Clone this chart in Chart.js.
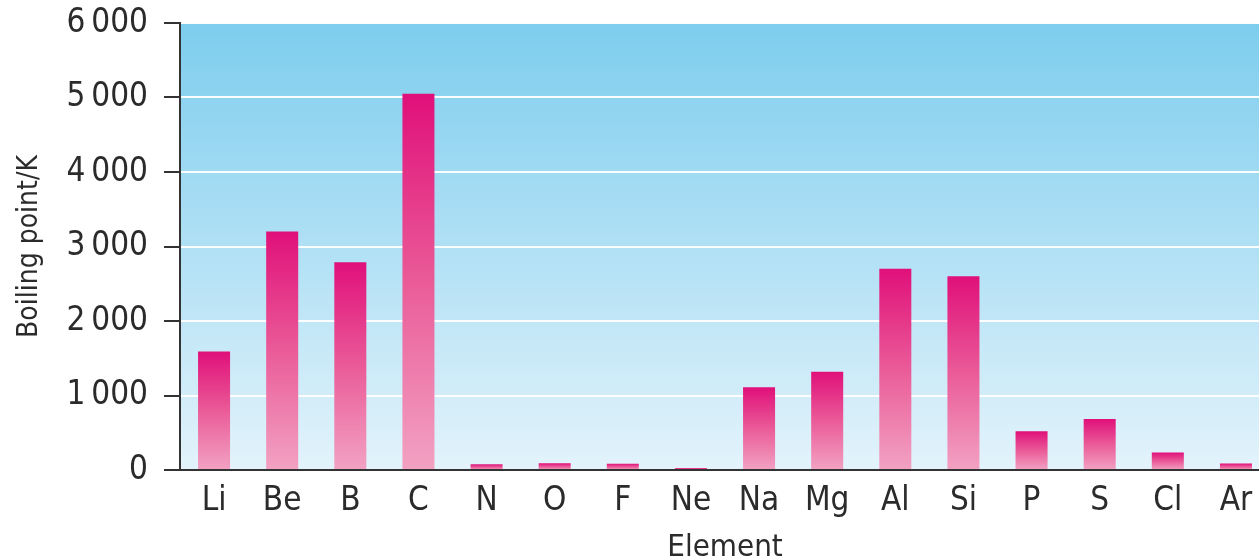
<!DOCTYPE html>
<html>
<head>
<meta charset="utf-8">
<script src="https://cdn.jsdelivr.net/npm/chart.js@4"></script>
<style>
  html, body { margin: 0; padding: 0; background: #fff; overflow: hidden; }
  #wrap { width: 1280px; height: 559px; }
</style>
</head>
<body>
<div id="wrap"><canvas id="boilingChart"></canvas></div>
<script>
// Boiling points of period 2 and 3 elements
const elements = ["Li", "Be", "B", "C", "N", "O", "F", "Ne", "Na", "Mg", "Al", "Si", "P", "S", "Cl", "Ar"];
const boilingPoints = [1590, 3200, 2790, 5050, 77, 90, 85, 27, 1110, 1320, 2700, 2600, 520, 685, 235, 87];
const yTicks = [0, 1000, 2000, 3000, 4000, 5000, 6000];

const FONT = '"Liberation Sans Narrow", "DejaVu Sans Condensed", sans-serif';
const TEXT = "#2b2b2b";
const AXIS = "#333333";

// spaced thousands like "6 000"
function formatTick(v) {
    return v >= 1000 ? Math.floor(v / 1000) + "\u2009" + String(v % 1000).padStart(3, "0") : String(v);
}

// light blue gradient behind the plot area
const plotBackground = {
    id: "plotBackground",
    beforeDraw(chart) {
        const { ctx, chartArea } = chart;
        if (!chartArea) return;
        const g = ctx.createLinearGradient(0, chartArea.top, 0, chartArea.bottom);
        g.addColorStop(0, "#7dcdee");
        g.addColorStop(1, "#e3f3fb");
        ctx.save();
        ctx.fillStyle = g;
        ctx.fillRect(chartArea.left, chartArea.top, chartArea.right - chartArea.left, chartArea.bottom - chartArea.top);
        ctx.restore();
    }
};

// each bar fades from deep pink at the top to light pink at the base
function barGradient(context) {
    const chart = context.chart;
    const { ctx, chartArea, scales } = chart;
    if (!chartArea || !scales.y) return "#e0127a";
    const value = context.raw;
    const top = scales.y.getPixelForValue(value);
    const base = scales.y.getPixelForValue(0);
    if (!isFinite(top) || base - top < 1) return "#e6448e";
    const g = ctx.createLinearGradient(0, top, 0, base);
    g.addColorStop(0, "#e0107a");
    g.addColorStop(0.5, "#ea5b98");
    g.addColorStop(1, "#f2a2c3");
    return g;
}

const ctx = document.getElementById("boilingChart").getContext("2d");
new Chart(ctx, {
    type: "bar",
    data: {
        labels: elements,
        datasets: [{
            label: "Boiling point/K",
            data: boilingPoints,
            backgroundColor: barGradient,
            borderWidth: 0,
            barPercentage: 0.47,
            categoryPercentage: 1.0
        }]
    },
    options: {
        responsive: true,
        maintainAspectRatio: false,
        animation: false,
        layout: { padding: { top: 23, right: 10, left: 0, bottom: 0 } },
        plugins: {
            legend: { display: false },
            tooltip: { enabled: false }
        },
        scales: {
            x: {
                offset: true,
                grid: { display: false, drawTicks: false },
                border: { display: true, color: AXIS, width: 2 },
                ticks: {
                    color: TEXT,
                    padding: 12,
                    font: { family: FONT, size: 33 }
                },
                title: {
                    display: true,
                    text: "Element",
                    color: TEXT,
                    padding: { top: 0, bottom: -8 },
                    font: { family: FONT, size: 31 }
                },
                afterFit(scale) { scale.height = 89; }
            },
            y: {
                min: 0,
                max: 6000,
                afterBuildTicks(scale) { scale.ticks = yTicks.map(v => ({ value: v })); },
                grid: {
                    color: "rgba(255,255,255,0.95)",
                    lineWidth: 2,
                    tickColor: AXIS,
                    tickLength: 16,
                    tickWidth: 2
                },
                border: { display: true, color: AXIS, width: 2 },
                ticks: {
                    color: TEXT,
                    padding: 16,
                    font: { family: FONT, size: 33 },
                    callback: v => formatTick(v)
                },
                title: {
                    display: true,
                    text: "Boiling point/K",
                    color: TEXT,
                    padding: { top: 13, bottom: 0 },
                    font: { family: FONT, size: 28 }
                },
                afterFit(scale) {
                    scale.width = 180;
                    scale.paddingTop = 0;
                    scale.paddingBottom = 0;
                }
            }
        }
    },
    plugins: [plotBackground]
});
</script>
</body>
</html>
